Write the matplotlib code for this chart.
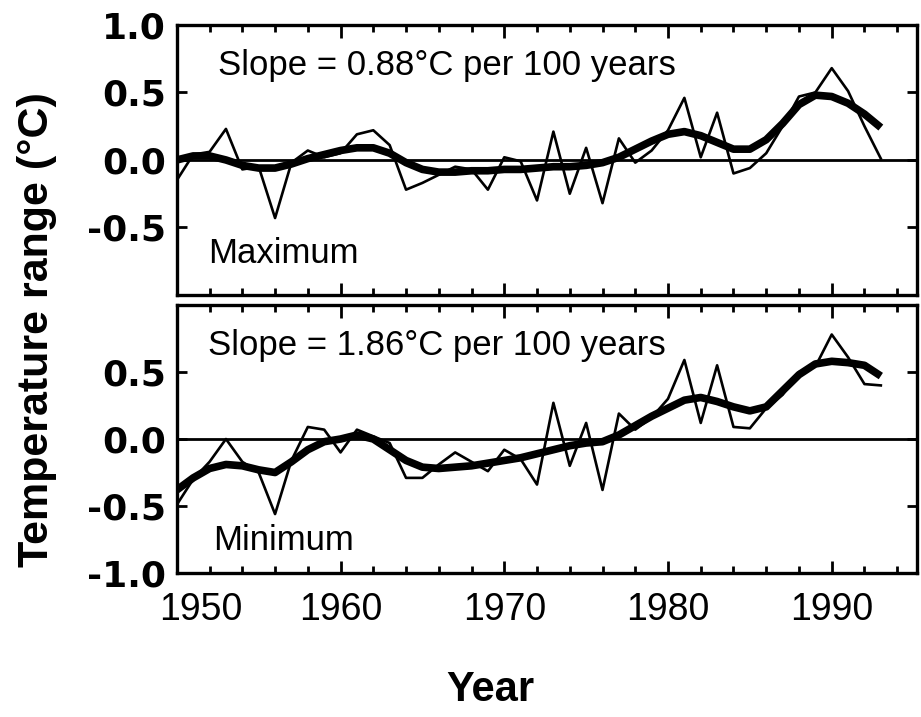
import matplotlib
matplotlib.use("Agg")
import matplotlib.pyplot as plt
from matplotlib.ticker import MultipleLocator, FixedLocator
from matplotlib.transforms import ScaledTranslation
import numpy as np

plt.rcParams['font.family'] = ['Liberation Sans', 'DejaVu Sans']
plt.rcParams['axes.unicode_minus'] = False

years = np.arange(1950, 1994)

# maximum temperature anomaly, annual and smoothed
max_annual = [-0.15, 0.04, 0.06, 0.23, -0.07, -0.05, -0.43, -0.02, 0.07, 0.02,
              0.05, 0.19, 0.22, 0.11, -0.22, -0.17, -0.11, -0.05, -0.07, -0.22,
              0.02, -0.01, -0.30, 0.21, -0.25, 0.09, -0.32, 0.16, -0.02, 0.07,
              0.22, 0.46, 0.02, 0.35, -0.10, -0.06, 0.05, 0.25, 0.47, 0.50,
              0.68, 0.51, 0.25, 0.01]
max_smooth = [0.00, 0.03, 0.03, 0.00, -0.04, -0.06, -0.06, -0.03, 0.01, 0.04,
              0.07, 0.09, 0.09, 0.05, -0.02, -0.07, -0.09, -0.09, -0.08, -0.08,
              -0.07, -0.07, -0.06, -0.05, -0.05, -0.04, -0.02, 0.02, 0.08, 0.14,
              0.19, 0.21, 0.18, 0.13, 0.08, 0.08, 0.15, 0.27, 0.41, 0.48,
              0.47, 0.42, 0.34, 0.24]

# minimum temperature anomaly, annual and smoothed
min_annual = [-0.49, -0.30, -0.17, 0.00, -0.17, -0.25, -0.56, -0.16, 0.09, 0.07,
              -0.10, 0.07, 0.02, -0.03, -0.29, -0.29, -0.19, -0.10, -0.17, -0.24,
              -0.08, -0.15, -0.34, 0.27, -0.20, 0.12, -0.38, 0.19, 0.07, 0.16,
              0.30, 0.59, 0.12, 0.55, 0.09, 0.08, 0.23, 0.33, 0.50, 0.54,
              0.78, 0.61, 0.41, 0.40]
min_smooth = [-0.38, -0.29, -0.22, -0.19, -0.20, -0.23, -0.25, -0.17, -0.08, -0.02,
              0.00, 0.03, 0.00, -0.08, -0.16, -0.21, -0.22, -0.21, -0.20, -0.18,
              -0.16, -0.14, -0.11, -0.08, -0.05, -0.03, -0.02, 0.03, 0.10, 0.17,
              0.23, 0.29, 0.31, 0.28, 0.24, 0.21, 0.24, 0.36, 0.48, 0.56,
              0.58, 0.57, 0.55, 0.47]

panels = [
    (max_annual, max_smooth, "Slope = 0.88°C per 100 years", "Maximum",
     ["", "-0.5", "0.0", "0.5", "1.0"]),
    (min_annual, min_smooth, "Slope = 1.86°C per 100 years", "Minimum",
     ["-1.0", "-0.5", "0.0", "0.5", ""]),
]
yticks = [-1.0, -0.5, 0.0, 0.5, 1.0]
decades = [1950, 1960, 1970, 1980, 1990]

fig = plt.figure(figsize=(9.21, 7.17), dpi=100)
ax_top = fig.add_axes([0.192, 0.5886, 0.8035, 0.3766])
ax_bot = fig.add_axes([0.192, 0.2008, 0.8035, 0.3738], sharex=ax_top)

text_pos = [((0.055, 0.815), (0.042, 0.119)), ((0.042, 0.813), (0.049, 0.086))]

for ax, (annual, smooth, slope, name, ylabels), (p1, p2) in zip([ax_top, ax_bot], panels, text_pos):
    ax.axhline(0, color='black', lw=2.0, zorder=1)
    ax.plot(years, annual, color='black', lw=1.9, zorder=2)
    ax.plot(years, smooth, color='black', lw=5.5, solid_capstyle='butt', zorder=3)
    ax.set_ylim(-1, 1)
    ax.set_xlim(1950, 1995.2)
    ax.yaxis.set_major_locator(FixedLocator(yticks))
    ax.set_yticklabels(ylabels, fontfamily='DejaVu Sans', fontweight='bold', fontsize=26)
    ax.xaxis.set_major_locator(FixedLocator(decades))
    ax.xaxis.set_minor_locator(MultipleLocator(2))
    ax.tick_params(axis='both', which='both', direction='in', top=True, right=True, width=2)
    ax.tick_params(axis='x', which='major', length=9, labelsize=27, pad=14)
    ax.tick_params(axis='x', which='minor', length=5)
    ax.tick_params(axis='y', which='major', length=7, pad=8)
    for sp in ax.spines.values():
        sp.set_linewidth(2.4)
    ax.text(p1[0], p1[1], slope, transform=ax.transAxes, fontsize=25, va='baseline')
    ax.text(p2[0], p2[1], name, transform=ax.transAxes, fontsize=25, va='baseline')

ax_top.tick_params(axis='x', labelbottom=False)

# nudge "1950" right so it clears the "-1.0" label
fig.canvas.draw()
lab = ax_bot.get_xticklabels()[0]
lab.set_transform(lab.get_transform() + ScaledTranslation(0.24, 0, fig.dpi_scale_trans))

fig.text(0.040, 0.54, "Temperature range (°C)", rotation=90, ha='center', va='center',
         fontsize=31, fontweight='bold')
fig.text(0.532, 0.038, "Year", ha='center', va='center', fontsize=30, fontweight='bold')

fig.savefig("out.png", dpi=100)
